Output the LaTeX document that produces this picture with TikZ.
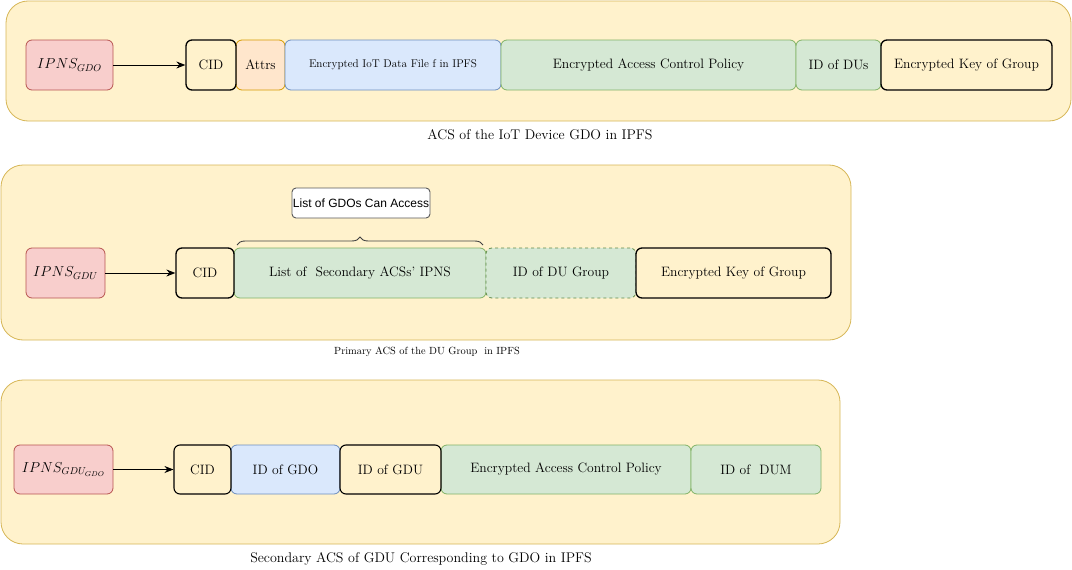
\documentclass[tikz,border=0pt]{standalone}
\usepackage{fontspec}
\setsansfont{Liberation Sans}
\usetikzlibrary{decorations.pathreplacing,arrows.meta}
\definecolor{yelF}{HTML}{FFF2CC}\definecolor{yelD}{HTML}{D6B656}
\definecolor{redF}{HTML}{F8CECC}\definecolor{redD}{HTML}{B85450}
\definecolor{oraF}{HTML}{FFE6CC}\definecolor{oraD}{HTML}{D79B00}
\definecolor{bluF}{HTML}{DAE8FC}\definecolor{bluD}{HTML}{6C8EBF}
\definecolor{grnF}{HTML}{D5E8D4}\definecolor{grnD}{HTML}{82B366}
\definecolor{grnDark}{HTML}{5F8A4A}
\begin{document}
\begin{tikzpicture}[x=1pt,y=-1pt,
  panel/.style={draw=yelD,fill=yelF,line width=0.8pt,rounded corners=22pt},
  cell/.style={rounded corners=6pt,inner sep=0pt,line width=0.8pt,
    font=\fontsize{13.6}{15}\selectfont},
  blk/.style={cell,draw=black,fill=yelF,line width=1.3pt},
  ora/.style={cell,draw=oraD,fill=oraF},
  blu/.style={cell,draw=bluD,fill=bluF},
  grn/.style={cell,draw=grnD,fill=grnF},
  ipns/.style={cell,draw=redD,fill=redF,font=\fontsize{14.5}{16}\selectfont},
  captext/.style={font=\fontsize{14}{16}\selectfont},
  link/.style={-{Stealth[length=9pt,width=7pt]},line width=0.9pt}]
\useasboundingbox (0,0) rectangle (1072,570);

% ---- ACS of the IoT device
\draw[panel] (6,1) rectangle (1071,121);
\node[ipns,minimum width=87pt,minimum height=50pt] (ip1) at (69.5,65) {$IPNS_{GDO}$};
\node[ora,minimum width=49pt,minimum height=50pt] (at1) at (260.5,65) {Attrs};
\node[blu,minimum width=216pt,minimum height=50pt,font=\fontsize{11.2}{13}\selectfont] (io1) at (393,65) {Encrypted IoT Data File f in IPFS};
\node[grn,minimum width=295pt,minimum height=50pt] (ac1) at (648.5,65) {Encrypted Access Control Policy};
\node[grn,minimum width=85pt,minimum height=50pt] (du1) at (838.5,65) {ID of DUs};
\node[blk,minimum width=171pt,minimum height=50pt] (ky1) at (966.5,65) {Encrypted Key of Group};
\node[blk,minimum width=50pt,minimum height=50pt] (cd1) at (211,65) {CID};
\draw[link] (ip1) -- (cd1);
\node[captext] (t1) at (540,135) {ACS of the IoT Device GDO in IPFS};

% ---- Primary ACS of the DU group
\draw[panel] (1,165) rectangle (851,340);
\node[ipns,minimum width=79pt,minimum height=50pt] (ip2) at (65.5,273) {$IPNS_{GDU}$};
\node[grn,minimum width=252pt,minimum height=50pt] (ls2) at (360,273) {List of\ \ Secondary ACSs' IPNS};
\node[grn,draw=grnDark,dashed,minimum width=150pt,minimum height=50pt] (dg2) at (561,273) {ID of DU Group};
\node[blk,minimum width=195pt,minimum height=50pt] (ky2) at (733.5,273) {Encrypted Key of Group};
\node[blk,minimum width=58pt,minimum height=50pt] (cd2) at (205,273) {CID};
\draw[link] (ip2) -- (cd2);
\node[draw=black!65,fill=white,rounded corners=4pt,line width=0.9pt,inner sep=0pt,
  minimum width=138pt,minimum height=30pt,font=\sffamily\fontsize{12}{14}\selectfont] (lb2) at (361,203) {List of GDOs Can Access};
\coordinate (bl) at (237,245);
\coordinate (br) at (483,245);
\draw[black!75,line width=0.9pt,decorate,decoration={brace,amplitude=8pt}] (bl) -- (br);
\node[font=\fontsize{10.4}{12}\selectfont] (t2) at (427,352) {Primary ACS of the DU Group\ \ in IPFS};

% ---- Secondary ACS of GDU for GDO
\draw[panel] (1,380) rectangle (840,544);
\node[ipns,minimum width=99pt,minimum height=49pt] (ip3) at (63.5,469.5) {$IPNS_{GDU_{GDO}}$};
\node[blu,minimum width=109pt,minimum height=49pt] (go3) at (285.5,469.5) {ID of GDO};
\node[grn,minimum width=250pt,minimum height=49pt] (ac3) at (566,469.5) {Encrypted Access Control Policy};
\node[grn,minimum width=130pt,minimum height=49pt] (dm3) at (756,469.5) {ID of\ \ DUM};
\node[blk,line width=1.1pt,minimum width=101pt,minimum height=49pt] (gu3) at (390.5,469.5) {ID of GDU};
\node[blk,line width=1.1pt,minimum width=57pt,minimum height=49pt] (cd3) at (202.5,469.5) {CID};
\draw[link] (ip3) -- (cd3);
\node[captext] (t3) at (421,559) {Secondary ACS of GDU Corresponding to GDO in IPFS};
\end{tikzpicture}
\end{document}
